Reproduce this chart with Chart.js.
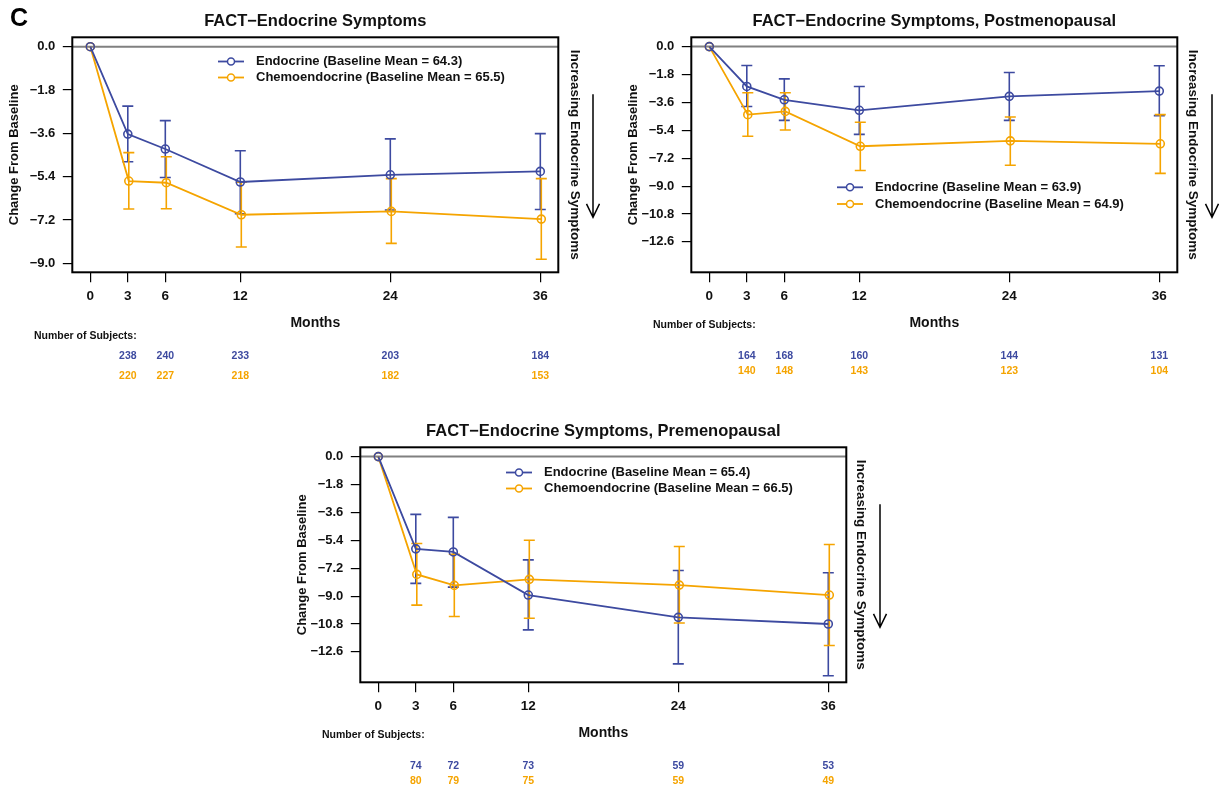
<!DOCTYPE html>
<html>
<head>
<meta charset="utf-8">
<title>FACT-Endocrine Symptoms</title>
<script src="https://cdn.jsdelivr.net/npm/chart.js@4.4.1/dist/chart.umd.min.js"></script>
<style>
  html, body { margin: 0; padding: 0; background: #fff; overflow: hidden; }
  #wrap { position: relative; width: 1220px; height: 787px; }
  canvas { position: absolute; }
</style>
</head>
<body>
<div id="wrap">
  <canvas id="panelAll" width="600" height="390" style="left:0;top:0"></canvas>
  <canvas id="panelPost" width="600" height="390" style="left:619px;top:0"></canvas>
  <canvas id="panelPre" width="600" height="377" style="left:288px;top:410px"></canvas>
</div>
<script>
// ---- data ----
const months = [0, 3, 6, 12, 24, 36];
const subjectMonths = [3, 6, 12, 24, 36];
const yTicksAll = [0, -1.8, -3.6, -5.4, -7.2, -9.0];
const yTicksSub = [0, -1.8, -3.6, -5.4, -7.2, -9.0, -10.8, -12.6];

// all patients
const allEndoMean  = [0, -3.63, -4.25, -5.62, -5.32, -5.18];
const allEndoLow   = [null, -4.78, -5.43, -6.94, -6.78, -6.76];
const allEndoHigh  = [null, -2.47, -3.07, -4.32, -3.83, -3.61];
const allChemoMean = [0, -5.58, -5.65, -6.98, -6.84, -7.16];
const allChemoLow  = [null, -6.74, -6.73, -8.32, -8.17, -8.83];
const allChemoHigh = [null, -4.40, -4.57, -5.63, -5.48, -5.48];
const allEndoN  = [238, 240, 233, 203, 184];
const allChemoN = [220, 227, 218, 182, 153];

// postmenopausal
const postEndoMean  = [0, -2.57, -3.43, -4.11, -3.21, -2.87];
const postEndoLow   = [null, -3.86, -4.76, -5.66, -4.76, -4.45];
const postEndoHigh  = [null, -1.22, -2.08, -2.57, -1.67, -1.24];
const postChemoMean = [0, -4.39, -4.18, -6.43, -6.08, -6.27];
const postChemoLow  = [null, -5.78, -5.38, -7.99, -7.65, -8.18];
const postChemoHigh = [null, -2.98, -2.98, -4.88, -4.54, -4.39];
const postEndoN  = [164, 168, 160, 144, 131];
const postChemoN = [140, 148, 143, 123, 104];

// premenopausal
const preEndoMean  = [0, -5.95, -6.15, -8.93, -10.37, -10.80];
const preEndoLow   = [null, -8.18, -8.42, -11.18, -13.37, -14.14];
const preEndoHigh  = [null, -3.73, -3.92, -6.66, -7.35, -7.49];
const preChemoMean = [0, -7.60, -8.31, -7.92, -8.29, -8.93];
const preChemoLow  = [null, -9.58, -10.32, -10.43, -10.73, -12.19];
const preChemoHigh = [null, -5.61, -6.30, -5.40, -5.80, -5.67];
const preEndoN  = [74, 72, 73, 59, 53];
const preChemoN = [80, 79, 75, 59, 49];

const BLUE = '#3d4aa0';
const ORANGE = '#f5a400';
const INK = '#111';
const FONT = '"Liberation Sans", Arial, Helvetica, sans-serif';
Chart.defaults.font.family = FONT;
Chart.defaults.color = INK;

const chemoShift = 0.08; // groups are dodged slightly in the original

function pts(ys, shift) {
  return months.map((m, i) => ({ x: m === 0 ? m : m + shift, y: ys[i] }));
}
const fmt = v => Number(v).toFixed(1).replace('-', '\u2212');

// zero line, error bars, frame, legend, side note and subject counts
const decor = {
  id: 'decor',
  beforeDatasetsDraw(chart, args, o) {
    const { ctx, chartArea: a, scales: { y } } = chart;
    ctx.save();
    const y0 = y.getPixelForValue(0);
    ctx.strokeStyle = '#808080';
    ctx.lineWidth = 2;
    ctx.beginPath(); ctx.moveTo(a.left, y0); ctx.lineTo(a.right, y0); ctx.stroke();

    chart.data.datasets.forEach((ds, i) => {
      const meta = chart.getDatasetMeta(i);
      ctx.strokeStyle = ds.borderColor;
      ctx.lineWidth = 1.6;
      meta.data.forEach((p, j) => {
        if (ds.lo[j] == null) return;
        const yl = y.getPixelForValue(ds.lo[j]);
        const yh = y.getPixelForValue(ds.hi[j]);
        ctx.beginPath();
        ctx.moveTo(p.x, yh); ctx.lineTo(p.x, yl);
        ctx.moveTo(p.x - 5.5, yh); ctx.lineTo(p.x + 5.5, yh);
        ctx.moveTo(p.x - 5.5, yl); ctx.lineTo(p.x + 5.5, yl);
        ctx.stroke();
      });
    });
    ctx.restore();
  },
  afterDraw(chart, args, o) {
    const { ctx, chartArea: a, scales: { x } } = chart;
    ctx.save();
    // frame
    ctx.strokeStyle = '#000';
    ctx.lineWidth = 2;
    ctx.strokeRect(a.left, a.top, a.width, a.height);

    // legend
    ctx.textBaseline = 'middle';
    ctx.textAlign = 'left';
    chart.data.datasets.forEach((ds, i) => {
      const ly = o.legendY + i * o.legendGap;
      ctx.strokeStyle = ds.borderColor;
      ctx.lineWidth = 1.8;
      ctx.beginPath(); ctx.moveTo(o.legendX, ly); ctx.lineTo(o.legendX + 26, ly); ctx.stroke();
      ctx.fillStyle = '#fff';
      ctx.lineWidth = 1.5;
      ctx.beginPath(); ctx.arc(o.legendX + 13, ly, 3.5, 0, Math.PI * 2); ctx.fill(); ctx.stroke();
      ctx.fillStyle = INK;
      ctx.font = 'bold 13px ' + FONT;
      ctx.fillText(ds.label, o.legendX + 38, ly);
    });

    // side note with arrow
    const cy = (a.top + a.bottom) / 2;
    ctx.save();
    ctx.translate(o.sideX, cy);
    ctx.rotate(Math.PI / 2);
    ctx.textAlign = 'center';
    ctx.font = 'bold 13.5px ' + FONT;
    ctx.fillText('Increasing Endocrine Symptoms', 0, 0);
    ctx.restore();
    ctx.strokeStyle = '#000';
    ctx.lineWidth = 1.5;
    const t = a.top + 57, b = a.top + 180;
    ctx.beginPath();
    ctx.moveTo(o.arrowX, t); ctx.lineTo(o.arrowX, b);
    ctx.moveTo(o.arrowX - 6.5, b - 13.5); ctx.lineTo(o.arrowX, b); ctx.lineTo(o.arrowX + 6.5, b - 13.5);
    ctx.stroke();

    // number of subjects
    ctx.font = 'bold 10.5px ' + FONT;
    ctx.fillStyle = INK;
    ctx.textAlign = 'left';
    ctx.fillText('Number of Subjects:', 34, o.nLabelY);
    ctx.textAlign = 'center';
    chart.data.datasets.forEach((ds, i) => {
      ctx.fillStyle = ds.borderColor;
      ds.n.forEach((v, j) => {
        ctx.fillText(String(v), x.getPixelForValue(subjectMonths[j]), o.nRowY[i]);
      });
    });

    if (o.letter) {
      ctx.fillStyle = '#000';
      ctx.textAlign = 'left';
      ctx.font = 'bold 25px ' + FONT;
      ctx.fillText(o.letter, 10, 19);
    }
    ctx.restore();
  }
};

function series(label, mean, lo, hi, n, color, shift) {
  return {
    label: label, data: pts(mean, shift), lo: lo, hi: hi, n: n,
    borderColor: color, backgroundColor: 'rgba(0,0,0,0)',
    borderWidth: 1.8, tension: 0,
    pointRadius: 4, pointBorderWidth: 1.6, pointBackgroundColor: 'rgba(0,0,0,0)'
  };
}

function makePanel(id, c) {
  const H = document.getElementById(id).height;
  new Chart(document.getElementById(id), {
    type: 'line',
    data: { datasets: c.datasets },
    plugins: [decor],
    options: {
      responsive: false,
      animation: false,
      events: [],
      layout: { padding: { top: 0, left: 0, right: 41.7, bottom: 0 } },
      plugins: {
        legend: { display: false },
        tooltip: { enabled: false },
        title: {
          display: true, text: c.title, fullSize: false, color: INK,
          font: { size: 16.5, weight: 'bold' }, padding: { top: 11.6, bottom: 5.9 }
        },
        decor: c.decor
      },
      scales: {
        x: {
          type: 'linear', min: -1.44, max: 37.44,
          afterBuildTicks: s => { s.ticks = months.map(v => ({ value: v })); },
          afterFit: s => { s.height = H - 272.3; },
          grid: { drawOnChartArea: false, drawTicks: true, tickLength: 10, color: '#000', lineWidth: 1.2 },
          border: { display: false },
          ticks: { callback: v => String(v), font: { size: 13.5, weight: 'bold' }, color: INK, padding: 6, maxRotation: 0, autoSkip: false },
          title: { display: true, text: 'Months', color: INK, font: { size: 14, weight: 'bold' }, padding: { top: 0, bottom: H - 322.7 - 8.4 } }
        },
        y: {
          min: c.yMin, max: c.yMax,
          afterBuildTicks: s => { s.ticks = c.yTicks.map(v => ({ value: v })); },
          afterFit: s => { s.width = 72.3; },
          grid: { drawOnChartArea: false, drawTicks: true, tickLength: 9.5, color: '#000', lineWidth: 1.2 },
          border: { display: false },
          ticks: { callback: v => fmt(v), font: { size: 13, weight: 'bold' }, color: INK, padding: 7.5, autoSkip: false },
          title: { display: true, text: 'Change From Baseline', color: INK, font: { size: 13, weight: 'bold' }, padding: { top: 7, bottom: 0 } }
        }
      }
    }
  });
}

makePanel('panelAll', {
  title: 'FACT\u2212Endocrine Symptoms',
  yMin: -9.37, yMax: 0.39, yTicks: yTicksAll,
  datasets: [
    series('Endocrine (Baseline Mean = 64.3)', allEndoMean, allEndoLow, allEndoHigh, allEndoN, BLUE, 0),
    series('Chemoendocrine (Baseline Mean = 65.5)', allChemoMean, allChemoLow, allChemoHigh, allChemoN, ORANGE, chemoShift)
  ],
  decor: { legendX: 218, legendY: 61.5, legendGap: 16, sideX: 575, arrowX: 593, nLabelY: 336.5, nRowY: [356, 376], letter: 'C' }
});

makePanel('panelPost', {
  title: 'FACT\u2212Endocrine Symptoms, Postmenopausal',
  yMin: -14.56, yMax: 0.6, yTicks: yTicksSub,
  datasets: [
    series('Endocrine (Baseline Mean = 63.9)', postEndoMean, postEndoLow, postEndoHigh, postEndoN, BLUE, 0),
    series('Chemoendocrine (Baseline Mean = 64.9)', postChemoMean, postChemoLow, postChemoHigh, postChemoN, ORANGE, chemoShift)
  ],
  decor: { legendX: 218, legendY: 187.3, legendGap: 16.7, sideX: 574, arrowX: 593, nLabelY: 325, nRowY: [356, 371] }
});

makePanel('panelPre', {
  title: 'FACT\u2212Endocrine Symptoms, Premenopausal',
  yMin: -14.56, yMax: 0.6, yTicks: yTicksSub,
  datasets: [
    series('Endocrine (Baseline Mean = 65.4)', preEndoMean, preEndoLow, preEndoHigh, preEndoN, BLUE, 0),
    series('Chemoendocrine (Baseline Mean = 66.5)', preChemoMean, preChemoLow, preChemoHigh, preChemoN, ORANGE, chemoShift)
  ],
  decor: { legendX: 218, legendY: 62.5, legendGap: 16, sideX: 573, arrowX: 592, nLabelY: 325, nRowY: [356, 371] }
});
</script>
</body>
</html>
